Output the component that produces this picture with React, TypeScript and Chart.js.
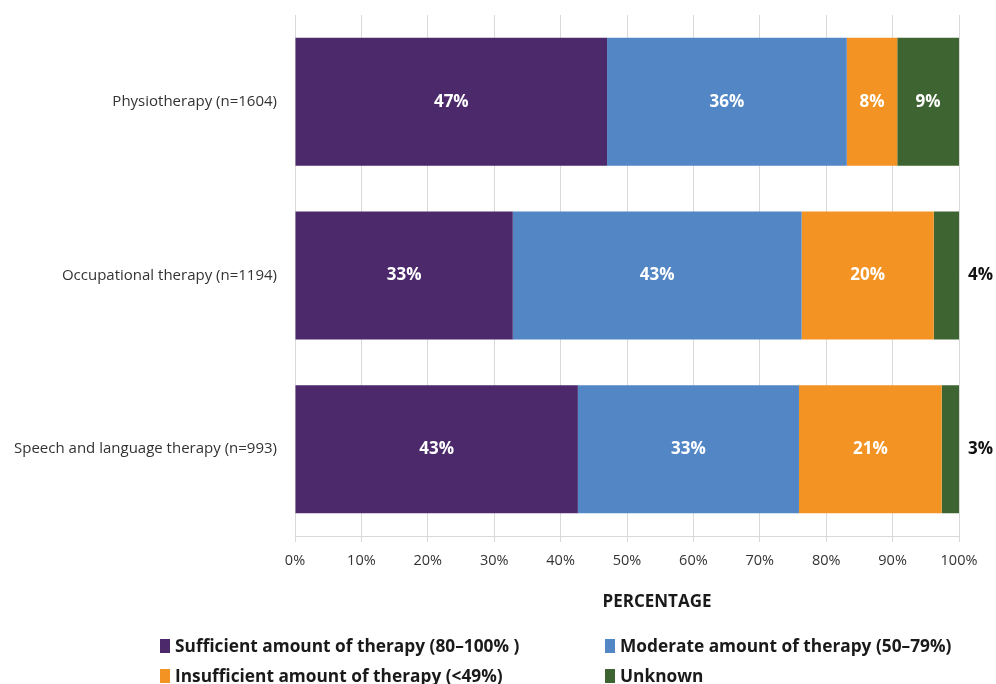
import React, { useEffect, useRef } from "react";
import { Chart, registerables } from "chart.js";

Chart.register(...registerables);

const categories = [
  "Physiotherapy (n=1604)",
  "Occupational therapy (n=1194)",
  "Speech and language therapy (n=993)",
];
const seriesNames = [
  "Sufficient amount of therapy (80–100% )",
  "Moderate amount of therapy (50–79%)",
  "Insufficient amount of therapy (<49%)",
  "Unknown",
];
const sufficient = [47.0, 32.8, 42.6];
const moderate = [36.1, 43.5, 33.3];
const insufficient = [7.6, 19.9, 21.5];
const unknown = [9.3, 3.8, 2.6];
const sufficientLabels = ["47%", "33%", "43%"];
const moderateLabels = ["36%", "43%", "33%"];
const insufficientLabels = ["8%", "20%", "21%"];
const unknownLabels = ["9%", "4%", "3%"];
const xTicks = [0, 10, 20, 30, 40, 50, 60, 70, 80, 90, 100];
const xTitle = "PERCENTAGE";

const colors = ["#4b296b", "#5286c5", "#f39324", "#3e6531"];
const FONT = '"Open Sans", "Noto Sans", sans-serif';

const labelPlugin = {
  id: "segLabels",
  afterDatasetsDraw(chart: any) {
    const ctx = chart.ctx;
    const labelSets = [sufficientLabels, moderateLabels, insufficientLabels, unknownLabels];
    ctx.save();
    ctx.font = `bold 17px ${FONT}`;
    ctx.textBaseline = "middle";
    chart.data.datasets.forEach((ds: any, di: number) => {
      const meta = chart.getDatasetMeta(di);
      meta.data.forEach((bar: any, i: number) => {
        const v = ds.data[i];
        const text = labelSets[di][i];
        if (v < 5) {
          ctx.fillStyle = "#111";
          ctx.textAlign = "left";
          ctx.fillText(text, bar.x + 9, bar.y);
        } else {
          ctx.fillStyle = "#ffffff";
          ctx.textAlign = "center";
          ctx.fillText(text, (bar.x + bar.base) / 2, bar.y);
        }
      });
    });
    ctx.restore();
  },
};

const titlePlugin = {
  id: "xTitle",
  afterDraw(chart: any) {
    const ctx = chart.ctx;
    const area = chart.chartArea;
    ctx.save();
    ctx.font = `bold 17px ${FONT}`;
    ctx.fillStyle = "#1a1a1a";
    ctx.textAlign = "center";
    ctx.textBaseline = "middle";
    ctx.fillText(xTitle, (area.left + area.right) / 2 + 30, area.bottom + 66);
    ctx.restore();
  },
};

export default function App() {
  const ref = useRef<HTMLCanvasElement | null>(null);
  useEffect(() => {
    document.body.style.margin = "0";
    const data = [sufficient, moderate, insufficient, unknown];
    const chart = new Chart(ref.current!, {
      type: "bar",
      data: {
        labels: categories,
        datasets: data.map((d, i) => ({
          label: seriesNames[i],
          data: d,
          backgroundColor: colors[i],
          borderWidth: 0,
          categoryPercentage: 1,
          barPercentage: 0.737,
        })),
      },
      options: {
        indexAxis: "y",
        animation: false,
        responsive: true,
        maintainAspectRatio: false,
        layout: { padding: { top: 15, right: 37, left: 0, bottom: 74 } },
        plugins: { legend: { display: false }, tooltip: { enabled: false } },
        scales: {
          x: {
            stacked: true,
            min: 0,
            max: 100,
            afterBuildTicks: (s: any) => {
              s.ticks = xTicks.map((v) => ({ value: v }));
            },
            afterFit: (s: any) => {
              s.height = 74;
            },
            ticks: {
              callback: (v: any) => v + "%",
              font: { family: FONT, size: 14.5 },
              color: "#333",
              padding: 10,
              maxRotation: 0,
            },
            grid: { color: "#d9d9d9", tickLength: 6, drawTicks: true },
            border: { color: "#d9d9d9" },
          },
          y: {
            stacked: true,
            afterFit: (s: any) => {
              s.width = 295;
            },
            ticks: {
              font: { family: FONT, size: 15 },
              color: "#333",
              padding: 0,
            },
            grid: { display: false, drawTicks: true, tickLength: 18 },
            border: { color: "#d9d9d9" },
          },
        },
      },
      plugins: [labelPlugin, titlePlugin],
    });
    return () => chart.destroy();
  }, []);

  const legendItem = (i: number) => (
    <div style={{ display: "flex", alignItems: "center" }}>
      <span
        style={{
          display: "inline-block",
          width: 10,
          height: 14,
          background: colors[i],
          marginRight: 5,
        }}
      />
      <span>{seriesNames[i]}</span>
    </div>
  );

  return (
    <div style={{ position: "relative", width: 996, height: 684, overflow: "hidden" }}>
      <canvas ref={ref} />
      <div
        style={{
          position: "absolute",
          left: 160,
          top: 633,
          display: "grid",
          gridTemplateColumns: "445px 380px",
          rowGap: 4,
          fontFamily: FONT,
          fontWeight: "bold",
          fontSize: 17.3,
          color: "#1a1a1a",
          lineHeight: "26px",
        }}
      >
        {legendItem(0)}
        {legendItem(1)}
        {legendItem(2)}
        {legendItem(3)}
      </div>
    </div>
  );
}
